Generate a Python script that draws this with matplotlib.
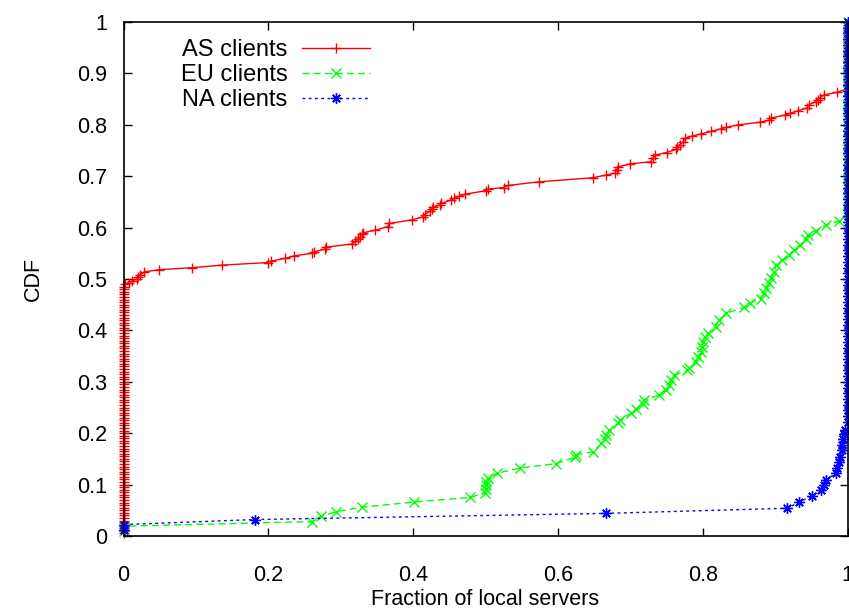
import numpy as np
import matplotlib
matplotlib.use("Agg")
import matplotlib.pyplot as plt

plt.rcParams['font.family'] = ['Liberation Sans', 'DejaVu Sans']

# CDF of fraction of local servers, per client region
# each series: total N, count of clients at exactly 0 and exactly 1,
# plus the points in between
as_total = 200
as_zero_count = 97
as_one_count = 27
as_mid_x = [0.002, 0.007, 0.012, 0.018, 0.020, 0.023, 0.029, 0.049, 0.095, 0.136,
            0.200, 0.204, 0.223, 0.236, 0.260, 0.263, 0.278, 0.280, 0.315, 0.320,
            0.324, 0.327, 0.329, 0.331, 0.348, 0.365, 0.367, 0.398, 0.414, 0.416,
            0.424, 0.426, 0.428, 0.437, 0.439, 0.453, 0.457, 0.464, 0.472, 0.501,
            0.503, 0.526, 0.531, 0.574, 0.648, 0.666, 0.679, 0.681, 0.683, 0.700,
            0.728, 0.731, 0.734, 0.750, 0.763, 0.765, 0.768, 0.773, 0.776, 0.785,
            0.797, 0.811, 0.825, 0.832, 0.849, 0.879, 0.892, 0.894, 0.914, 0.920,
            0.931, 0.944, 0.947, 0.956, 0.959, 0.962, 0.967, 0.985]
as_mid_y = [0.490, 0.493, 0.496, 0.500, 0.504, 0.508, 0.514, 0.518, 0.522, 0.527,
            0.532, 0.535, 0.540, 0.545, 0.550, 0.553, 0.558, 0.562, 0.568, 0.573,
            0.578, 0.582, 0.587, 0.590, 0.595, 0.602, 0.608, 0.615, 0.621, 0.625,
            0.633, 0.637, 0.640, 0.644, 0.647, 0.654, 0.657, 0.661, 0.665, 0.672,
            0.675, 0.678, 0.682, 0.689, 0.697, 0.702, 0.706, 0.712, 0.718, 0.724,
            0.728, 0.735, 0.741, 0.746, 0.752, 0.757, 0.761, 0.767, 0.774, 0.778,
            0.782, 0.787, 0.792, 0.795, 0.800, 0.805, 0.809, 0.813, 0.819, 0.822,
            0.827, 0.833, 0.839, 0.845, 0.849, 0.853, 0.858, 0.863]

eu_total = 105
eu_zero_count = 2
eu_one_count = 40
eu_mid_x = [0.260, 0.273, 0.293, 0.329, 0.401, 0.479, 0.499, 0.500, 0.500, 0.501,
            0.503, 0.516, 0.547, 0.598, 0.623, 0.625, 0.649, 0.660, 0.665, 0.667,
            0.671, 0.683, 0.686, 0.701, 0.708, 0.717, 0.719, 0.740, 0.749, 0.753,
            0.756, 0.761, 0.779, 0.781, 0.791, 0.793, 0.798, 0.799, 0.801, 0.803,
            0.808, 0.818, 0.822, 0.832, 0.857, 0.866, 0.880, 0.885, 0.887, 0.891,
            0.894, 0.899, 0.901, 0.910, 0.919, 0.926, 0.935, 0.942, 0.945, 0.956,
            0.970, 0.988]
eu_mid_y = [0.028, 0.038, 0.047, 0.056, 0.066, 0.075, 0.084, 0.091, 0.099, 0.106,
            0.113, 0.122, 0.132, 0.141, 0.153, 0.158, 0.164, 0.180, 0.188, 0.196,
            0.206, 0.219, 0.226, 0.239, 0.248, 0.257, 0.265, 0.274, 0.284, 0.294,
            0.303, 0.313, 0.322, 0.326, 0.339, 0.349, 0.358, 0.368, 0.378, 0.388,
            0.394, 0.407, 0.420, 0.433, 0.445, 0.453, 0.462, 0.472, 0.482, 0.492,
            0.501, 0.514, 0.527, 0.537, 0.547, 0.556, 0.566, 0.577, 0.586, 0.594,
            0.605, 0.613]

na_total = 90
na_zero_count = 2
na_one_count = 71
na_mid_x = [0.181, 0.666, 0.917, 0.933, 0.951, 0.964, 0.967, 0.970, 0.984, 0.986,
            0.988, 0.989, 0.992, 0.993, 0.994, 0.995, 0.997]
na_mid_y = [0.032, 0.044, 0.054, 0.066, 0.078, 0.089, 0.099, 0.109, 0.122, 0.133,
            0.144, 0.154, 0.167, 0.178, 0.189, 0.198, 0.206]

y_ticks = [0, 0.1, 0.2, 0.3, 0.4, 0.5, 0.6, 0.7, 0.8, 0.9, 1]
y_tick_labels = ['0', '0.1', '0.2', '0.3', '0.4', '0.5', '0.6', '0.7', '0.8', '0.9', '1']
x_ticks = [0, 0.2, 0.4, 0.6, 0.8, 1]
x_tick_labels = ['0', '0.2', '0.4', '0.6', '0.8', '1']


def cdf_points(total, zero_count, one_count, mid_x, mid_y):
    # clients at 0 and at 1 stack up vertically, rank / total
    zy = np.arange(1, zero_count + 1) / total
    oy = np.arange(total - one_count + 1, total + 1) / total
    x = np.concatenate([np.zeros(zero_count), mid_x, np.ones(one_count)])
    y = np.concatenate([zy, mid_y, oy])
    return x, y


fig = plt.figure(figsize=(8.49, 6.08), dpi=100)
ax = fig.add_axes([123.5 / 849, 1 - 536 / 608, (847.5 - 123.5) / 849, (536 - 22) / 608])

x, y = cdf_points(as_total, as_zero_count, as_one_count, as_mid_x, as_mid_y)
ax.plot(x, y, color='#ff0000', ls='-', lw=1.0, marker='+', ms=7.5, mew=1.0,
        label='AS clients', clip_on=False)
x, y = cdf_points(eu_total, eu_zero_count, eu_one_count, eu_mid_x, eu_mid_y)
ax.plot(x, y, color='#00ff00', ls=(0, (5, 3)), lw=1.0, marker='x', ms=6.5, mew=1.0,
        label='EU clients', clip_on=False)
x, y = cdf_points(na_total, na_zero_count, na_one_count, na_mid_x, na_mid_y)
ax.plot(x, y, color='#0000ff', ls=(0, (2, 2.5)), lw=1.0, marker=(8, 2, 0), ms=7.5, mew=1.0,
        label='NA clients', clip_on=False)

ax.set_xlim(0, 1)
ax.set_ylim(0, 1)
ax.set_xticks(x_ticks)
ax.set_xticklabels(x_tick_labels)
ax.set_yticks(y_ticks)
ax.set_yticklabels(y_tick_labels)
ax.tick_params(direction='in', length=6, width=1.0, top=True, right=True,
               labelsize=15.5)
ax.tick_params(axis='x', pad=21)
ax.tick_params(axis='y', pad=12)
for s in ax.spines.values():
    s.set_linewidth(1.2)

ax.set_xlabel('Fraction of local servers', fontsize=15.5, labelpad=2)
ax.set_ylabel('CDF', fontsize=15.5, labelpad=24)

leg = ax.legend(loc='upper left', bbox_to_anchor=(0.05, 1.008), frameon=False,
                markerfirst=False, fontsize=17, handlelength=2.9,
                labelspacing=0.12, handletextpad=0.6)
for t in leg.get_texts():
    t.set_ha('right')

fig.savefig('out.png', dpi=100)
